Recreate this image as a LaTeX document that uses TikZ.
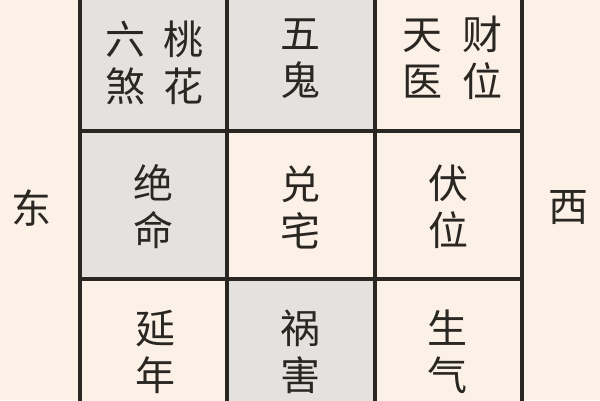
\documentclass[tikz,border=0pt]{standalone}
\usepackage{fontspec}
\setmainfont{Noto Sans CJK SC}
\definecolor{cream}{HTML}{FBF1E6}
\definecolor{grayc}{HTML}{E4E2DF}
\definecolor{ink}{HTML}{2A2622}
\tikzset{
  cellbox/.style={draw=ink, line width=4pt},
  word/.style={inner sep=0pt, text=ink, align=center, font=\fontsize{40}{47}\selectfont},
}
\begin{document}
\begin{tikzpicture}[x=1pt,y=-1pt]
\useasboundingbox (0,0) rectangle (600,400);
\fill[cream] (0,0) rectangle (600,400);
% cells
\path[cellbox, fill=grayc] (80,-20) rectangle (226.5,130.5) node[midway] (c11) {};
\path[cellbox, fill=grayc] (226.5,-20) rectangle (374.5,130.5) node[midway] (c12) {};
\path[cellbox, fill=cream] (374.5,-20) rectangle (521.5,130.5) node[midway] (c13) {};
\path[cellbox, fill=grayc] (80,130.5) rectangle (226.5,278.5) node[midway] (c21) {};
\path[cellbox, fill=cream] (226.5,130.5) rectangle (374.5,278.5) node[midway] (c22) {};
\path[cellbox, fill=cream] (374.5,130.5) rectangle (521.5,278.5) node[midway] (c23) {};
\path[cellbox, fill=cream] (80,278.5) rectangle (226.5,430) node[midway] (c31) {};
\path[cellbox, fill=grayc] (226.5,278.5) rectangle (374.5,430) node[midway] (c32) {};
\path[cellbox, fill=cream] (374.5,278.5) rectangle (521.5,430) node[midway] (c33) {};
% texts
\node[word] (t11) at (154,63) {六\hspace{18pt}桃\\煞\hspace{18pt}花};
\node[word] (t12) at (300,59) {五\\鬼};
\node[word] (t13) at (452,58) {天\hspace{20pt}财\\医\hspace{20pt}位};
\node[word] (t21) at (153,207) {绝\\命};
\node[word] (t22) at (300,207) {兑\\宅};
\node[word] (t23) at (448,207) {伏\\位};
\node[word] (t31) at (155,352) {延\\年};
\node[word] (t32) at (300,352) {祸\\害};
\node[word] (t33) at (447,352) {生\\气};
\node[word] (east) at (31,208) {东};
\node[word] (west) at (568,208) {西};
\end{tikzpicture}
\end{document}
